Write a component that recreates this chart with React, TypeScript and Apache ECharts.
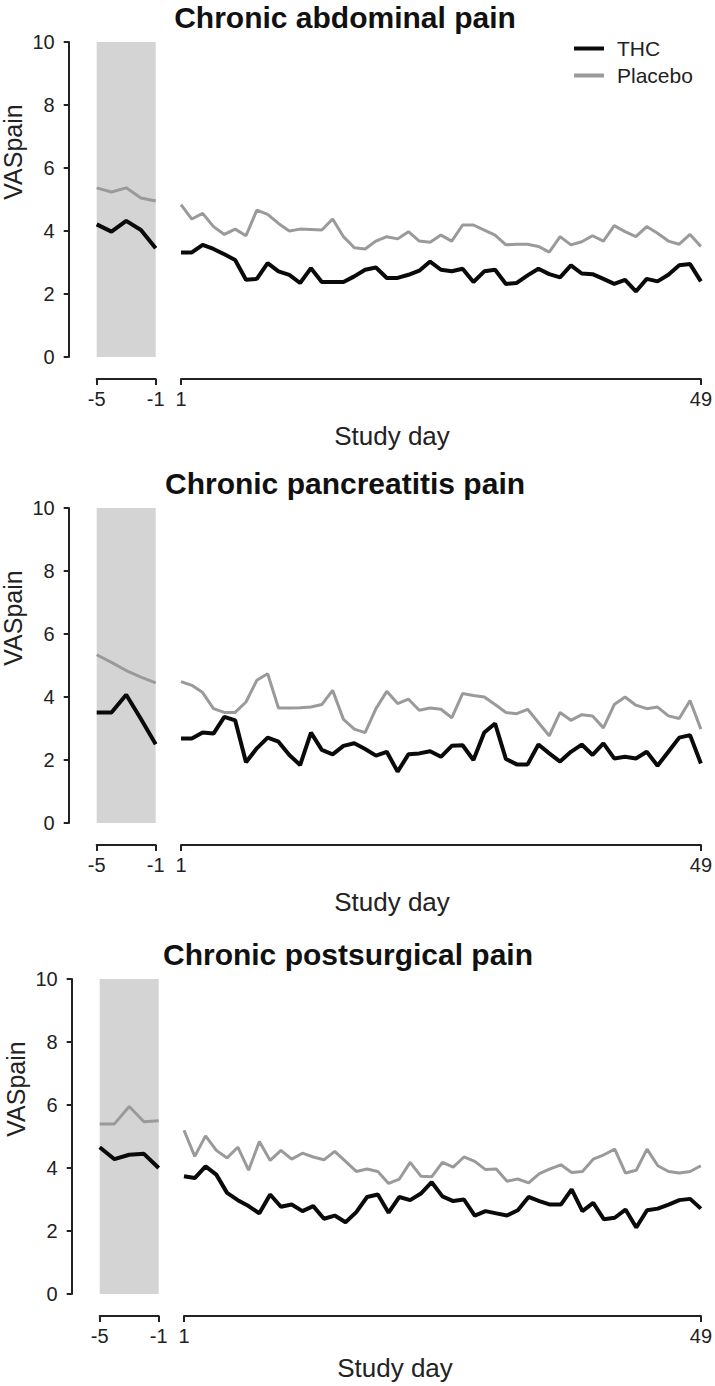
import React, { useEffect, useRef } from "react";
import * as echarts from "echarts";

const TITLES = ["Chronic abdominal pain", "Chronic pancreatitis pain", "Chronic postsurgical pain"];
const SERIES_NAMES = ["THC", "Placebo"];
const Y_TICKS = [0, 2, 4, 6, 8, 10];
const PRE_DAYS = [-5, -4, -3, -2, -1];
const PRE_TICKS = [-5, -1];
const STUDY_TICKS = [1, 49];
const STUDY_DAYS = [
  1, 2, 3, 4, 5, 6, 7, 8, 9, 10, 11, 12, 13, 14, 15, 16, 17, 18, 19, 20, 21, 22, 23, 24, 25,
  26, 27, 28, 29, 30, 31, 32, 33, 34, 35, 36, 37, 38, 39, 40, 41, 42, 43, 44, 45, 46, 47, 48, 49,
];

// Chronic abdominal pain
const abdominalPreTHC = [4.21, 3.98, 4.32, 4.03, 3.45];
const abdominalPrePlacebo = [5.37, 5.24, 5.37, 5.05, 4.95];
const abdominalTHC = [
  3.32, 3.32, 3.56, 3.43, 3.26, 3.08, 2.45, 2.48, 2.98, 2.72, 2.61, 2.35, 2.82, 2.38, 2.38, 2.38,
  2.56, 2.77, 2.84, 2.51, 2.51, 2.61, 2.74, 3.03, 2.77, 2.72, 2.8, 2.38, 2.72, 2.77, 2.32, 2.35,
  2.59, 2.8, 2.63, 2.53, 2.91, 2.65, 2.63, 2.48, 2.32, 2.45, 2.08, 2.48, 2.4, 2.61, 2.91, 2.95, 2.4,
];
const abdominalPlacebo = [
  4.84, 4.38, 4.56, 4.14, 3.89, 4.06, 3.85, 4.66, 4.53, 4.24, 4.0, 4.06, 4.05, 4.03, 4.38, 3.82,
  3.47, 3.43, 3.68, 3.82, 3.75, 3.98, 3.68, 3.64, 3.87, 3.68, 4.19, 4.19, 4.03, 3.87, 3.56, 3.58,
  3.58, 3.51, 3.33, 3.82, 3.56, 3.66, 3.85, 3.68, 4.17, 3.98, 3.82, 4.14, 3.93, 3.68, 3.58, 3.89, 3.51,
];

// Chronic pancreatitis pain
const pancreatitisPreTHC = [3.51, 3.51, 4.07, 3.3, 2.5];
const pancreatitisPrePlacebo = [5.34, 5.1, 4.84, 4.63, 4.45];
const pancreatitisTHC = [
  2.68, 2.68, 2.87, 2.84, 3.37, 3.26, 1.93, 2.37, 2.71, 2.58, 2.16, 1.84, 2.87, 2.32, 2.18, 2.45,
  2.53, 2.35, 2.14, 2.26, 1.63, 2.18, 2.21, 2.28, 2.1, 2.45, 2.47, 2.0, 2.87, 3.16, 2.03, 1.86,
  1.86, 2.49, 2.21, 1.95, 2.26, 2.49, 2.16, 2.53, 2.05, 2.1, 2.05, 2.26, 1.82, 2.26, 2.71, 2.79, 1.89,
];
const pancreatitisPlacebo = [
  4.49, 4.37, 4.14, 3.63, 3.51, 3.51, 3.84, 4.53, 4.74, 3.65, 3.65, 3.66, 3.68, 3.76, 4.21, 3.29,
  2.98, 2.87, 3.63, 4.18, 3.79, 3.93, 3.58, 3.65, 3.61, 3.34, 4.11, 4.05, 4.0, 3.76, 3.51, 3.47,
  3.61, 3.19, 2.77, 3.51, 3.26, 3.44, 3.4, 3.02, 3.76, 4.0, 3.74, 3.63, 3.68, 3.4, 3.32, 3.89, 2.98,
];

// Chronic postsurgical pain
const postsurgicalPreTHC = [4.66, 4.28, 4.42, 4.45, 4.0];
const postsurgicalPrePlacebo = [5.4, 5.4, 5.95, 5.47, 5.5];
const postsurgicalTHC = [
  3.74, 3.68, 4.05, 3.79, 3.21, 2.98, 2.79, 2.56, 3.16, 2.77, 2.84, 2.63, 2.79, 2.39, 2.49, 2.28,
  2.6, 3.08, 3.16, 2.58, 3.08, 2.98, 3.19, 3.55, 3.1, 2.95, 3.0, 2.49, 2.63, 2.56, 2.49, 2.66,
  3.08, 2.95, 2.84, 2.84, 3.32, 2.63, 2.89, 2.37, 2.42, 2.68, 2.11, 2.66, 2.71, 2.84, 2.98, 3.02, 2.71,
];
const postsurgicalPlacebo = [
  5.2, 4.37, 5.02, 4.56, 4.32, 4.66, 3.93, 4.84, 4.24, 4.56, 4.28, 4.47, 4.35, 4.26, 4.53, 4.21,
  3.89, 3.97, 3.89, 3.51, 3.65, 4.18, 3.74, 3.72, 4.18, 4.03, 4.35, 4.21, 3.95, 3.97, 3.58, 3.65,
  3.53, 3.82, 3.97, 4.1, 3.86, 3.89, 4.28, 4.42, 4.6, 3.84, 3.93, 4.6, 4.07, 3.89, 3.84, 3.89, 4.07,
];

const PANELS = [
  { preTHC: abdominalPreTHC, prePlacebo: abdominalPrePlacebo, thc: abdominalTHC, placebo: abdominalPlacebo },
  { preTHC: pancreatitisPreTHC, prePlacebo: pancreatitisPrePlacebo, thc: pancreatitisTHC, placebo: pancreatitisPlacebo },
  { preTHC: postsurgicalPreTHC, prePlacebo: postsurgicalPrePlacebo, thc: postsurgicalTHC, placebo: postsurgicalPlacebo },
];

// layout
const PANEL_TOP = [42, 508, 979];
const PANEL_SHIFT = [0, 0, 3];
const STUDY_DAY_GAP = [79, 79, 74];
const PLOT_H = 315;
const X_AXIS_OFFSET = 22;
const FONT = "'Liberation Sans', Arial, Helvetica, sans-serif";
const AXIS_COLOR = "#222";
const THC_COLOR = "#0a0a0a";
const PLACEBO_COLOR = "#9a9a9a";
const SHADE_COLOR = "#d4d4d4";

export default function App() {
  const ref = useRef<HTMLDivElement>(null);

  useEffect(() => {
    if (!ref.current) return;
    const chart = echarts.init(ref.current, null, { renderer: "svg" });

    const grid: any[] = [];
    const xAxis: any[] = [];
    const yAxis: any[] = [];
    const series: any[] = [];
    const graphic: any[] = [];

    PANELS.forEach((p, i) => {
      const top = PANEL_TOP[i];
      const s = PANEL_SHIFT[i];
      const preIdx = i * 2;
      const mainIdx = i * 2 + 1;
      grid.push({ left: 96.7 + s, top, width: 59, height: PLOT_H });
      grid.push({ left: 181 + s, top, width: 521, height: PLOT_H });

      const xCommon = {
        type: "value",
        offset: X_AXIS_OFFSET,
        splitLine: { show: false },
        axisLine: { show: true, onZero: false, lineStyle: { color: AXIS_COLOR, width: 2 } },
      };
      xAxis.push({
        ...xCommon,
        gridIndex: preIdx,
        min: PRE_DAYS[0],
        max: PRE_DAYS[PRE_DAYS.length - 1],
        axisTick: { show: true, customValues: PRE_TICKS, length: 6, lineStyle: { color: AXIS_COLOR, width: 2 } },
        axisLabel: { customValues: PRE_TICKS, fontSize: 20, color: "#222", fontFamily: FONT, margin: 10 },
      });
      xAxis.push({
        ...xCommon,
        gridIndex: mainIdx,
        min: STUDY_DAYS[0],
        max: STUDY_DAYS[STUDY_DAYS.length - 1],
        axisTick: { show: true, customValues: STUDY_TICKS, length: 6, lineStyle: { color: AXIS_COLOR, width: 2 } },
        axisLabel: { customValues: STUDY_TICKS, fontSize: 20, color: "#222", fontFamily: FONT, margin: 10 },
      });

      yAxis.push({
        type: "value",
        gridIndex: preIdx,
        min: Y_TICKS[0],
        max: Y_TICKS[Y_TICKS.length - 1],
        interval: 2,
        offset: 28,
        splitLine: { show: false },
        axisLine: { show: true, onZero: false, lineStyle: { color: AXIS_COLOR, width: 2 } },
        axisTick: { show: true, length: 5, lineStyle: { color: AXIS_COLOR, width: 2 } },
        axisLabel: { fontSize: 20, color: "#222", fontFamily: FONT, margin: 14 },
      });
      yAxis.push({
        type: "value",
        gridIndex: mainIdx,
        min: Y_TICKS[0],
        max: Y_TICKS[Y_TICKS.length - 1],
        show: false,
        splitLine: { show: false },
      });

      series.push({
        type: "line",
        xAxisIndex: preIdx,
        yAxisIndex: preIdx,
        data: [],
        z: 1,
        silent: true,
        markArea: {
          silent: true,
          itemStyle: { color: SHADE_COLOR },
          data: [[
            { xAxis: PRE_DAYS[0], yAxis: Y_TICKS[0] },
            { xAxis: PRE_DAYS[PRE_DAYS.length - 1], yAxis: Y_TICKS[Y_TICKS.length - 1] },
          ]],
        },
      });

      const lineCommon = { type: "line", symbol: "none", showSymbol: false, z: 3, silent: true };
      series.push({
        ...lineCommon,
        name: SERIES_NAMES[1],
        xAxisIndex: preIdx,
        yAxisIndex: preIdx,
        data: PRE_DAYS.map((d, k) => [d, p.prePlacebo[k]]),
        color: PLACEBO_COLOR,
        lineStyle: { color: PLACEBO_COLOR, width: 3 },
      });
      series.push({
        ...lineCommon,
        name: SERIES_NAMES[1],
        xAxisIndex: mainIdx,
        yAxisIndex: mainIdx,
        data: STUDY_DAYS.map((d, k) => [d, p.placebo[k]]),
        color: PLACEBO_COLOR,
        lineStyle: { color: PLACEBO_COLOR, width: 3 },
      });
      series.push({
        ...lineCommon,
        name: SERIES_NAMES[0],
        xAxisIndex: preIdx,
        yAxisIndex: preIdx,
        data: PRE_DAYS.map((d, k) => [d, p.preTHC[k]]),
        color: THC_COLOR,
        lineStyle: { color: THC_COLOR, width: 4 },
      });
      series.push({
        ...lineCommon,
        name: SERIES_NAMES[0],
        xAxisIndex: mainIdx,
        yAxisIndex: mainIdx,
        data: STUDY_DAYS.map((d, k) => [d, p.thc[k]]),
        color: THC_COLOR,
        lineStyle: { color: THC_COLOR, width: 4 },
      });

      graphic.push({
        type: "text",
        x: 345 + s,
        y: top - 25,
        style: {
          text: TITLES[i],
          fontSize: 30,
          fontWeight: "bold",
          fontFamily: FONT,
          fill: "#111",
          textAlign: "center",
          textVerticalAlign: "middle",
        },
      });
      graphic.push({
        type: "text",
        x: 13 + s,
        y: top + 110,
        rotation: Math.PI / 2,
        style: {
          text: "VASpain",
          fontSize: 25,
          fontFamily: FONT,
          fill: "#222",
          textAlign: "center",
          textVerticalAlign: "middle",
        },
      });
      graphic.push({
        type: "text",
        x: 392 + s,
        y: top + PLOT_H + STUDY_DAY_GAP[i],
        style: {
          text: "Study day",
          fontSize: 26,
          fontFamily: FONT,
          fill: "#222",
          textAlign: "center",
          textVerticalAlign: "middle",
        },
      });
    });

    chart.setOption({
      animation: false,
      backgroundColor: "#fff",
      grid,
      xAxis,
      yAxis,
      series,
      graphic,
      legend: {
        data: SERIES_NAMES,
        orient: "vertical",
        left: 569,
        top: 33,
        icon: "rect",
        itemWidth: 30,
        itemHeight: 4,
        itemGap: 6,
        selectedMode: false,
        textStyle: { fontSize: 21, lineHeight: 21, color: "#222", fontFamily: FONT, padding: [0, 0, 0, 8] },
      },
    });

    return () => chart.dispose();
  }, []);

  return (
    <div
      ref={ref}
      style={{ position: "fixed", left: 0, top: 0, width: 715, height: 1386, background: "#fff" }}
    />
  );
}
